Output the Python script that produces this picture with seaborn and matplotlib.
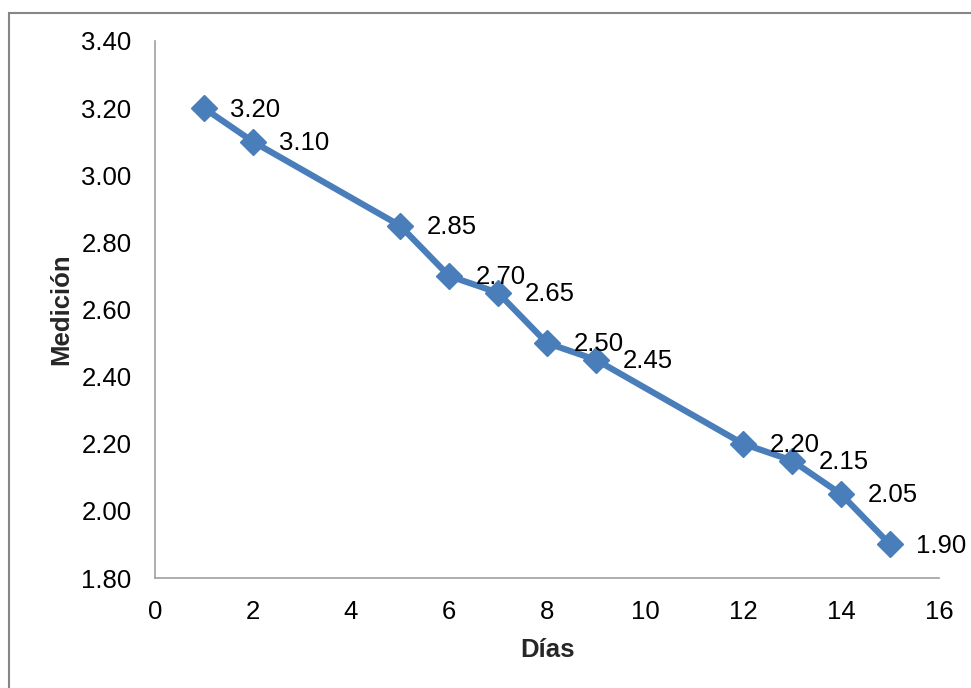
import matplotlib
matplotlib.use("Agg")
import matplotlib.pyplot as plt
import seaborn as sns
import pandas as pd
from matplotlib.patches import Rectangle

dias = [1, 2, 5, 6, 7, 8, 9, 12, 13, 14, 15]
medicion = [3.20, 3.10, 2.85, 2.70, 2.65, 2.50, 2.45, 2.20, 2.15, 2.05, 1.90]
x_ticks = [0, 2, 4, 6, 8, 10, 12, 14, 16]
y_ticks = [1.80, 2.00, 2.20, 2.40, 2.60, 2.80, 3.00, 3.20, 3.40]

sns.set_style("white")
plt.rcParams['font.family'] = ['Liberation Sans', 'DejaVu Sans']

df = pd.DataFrame({"Días": dias, "Medición": medicion})

W, H = 971, 688
fig = plt.figure(figsize=(W / 100, H / 100), dpi=100)
ax = fig.add_axes([155 / W, 1 - 578 / H, (939 - 155) / W, (578 - 41) / H])

color = "#4A7EBB"
fs = 18.5
sns.lineplot(data=df, x="Días", y="Medición", ax=ax, color=color, lw=4.5,
             marker="D", markersize=13, markeredgecolor=color, markeredgewidth=1)

for xv, yv in zip(dias, medicion):
    ax.annotate(f"{yv:.2f}", (xv, yv), xytext=(19, -1), textcoords="offset points",
                ha="left", va="center", fontsize=fs, color="black")

ax.set_xlim(0, 16)
ax.set_ylim(1.80, 3.40)
ax.set_xticks(x_ticks)
ax.set_xticklabels([str(t) for t in x_ticks])
ax.set_yticks(y_ticks)
ax.set_yticklabels([f"{t:.2f}" for t in y_ticks])

for s in ["top", "right"]:
    ax.spines[s].set_visible(False)
for s in ["left", "bottom"]:
    ax.spines[s].set_color("#A0A0A0")
    ax.spines[s].set_linewidth(1.2)
ax.tick_params(axis="both", direction="out", length=5, width=1.2, color="#A0A0A0",
               labelsize=fs, labelcolor="black")
ax.tick_params(axis="y", pad=12)
ax.tick_params(axis="x", pad=11)
ax.grid(False)

ax.set_xlabel("Días", fontsize=fs, fontweight="bold", labelpad=10)
ax.set_ylabel("Medición", fontsize=fs, fontweight="bold", labelpad=6)

fig.patches.append(Rectangle((8.5 / W, -0.1), 1.2, 1.1 - 12.5 / H, transform=fig.transFigure,
                             fill=False, edgecolor="#868686", lw=1.5))

fig.savefig("out.png", dpi=100)
